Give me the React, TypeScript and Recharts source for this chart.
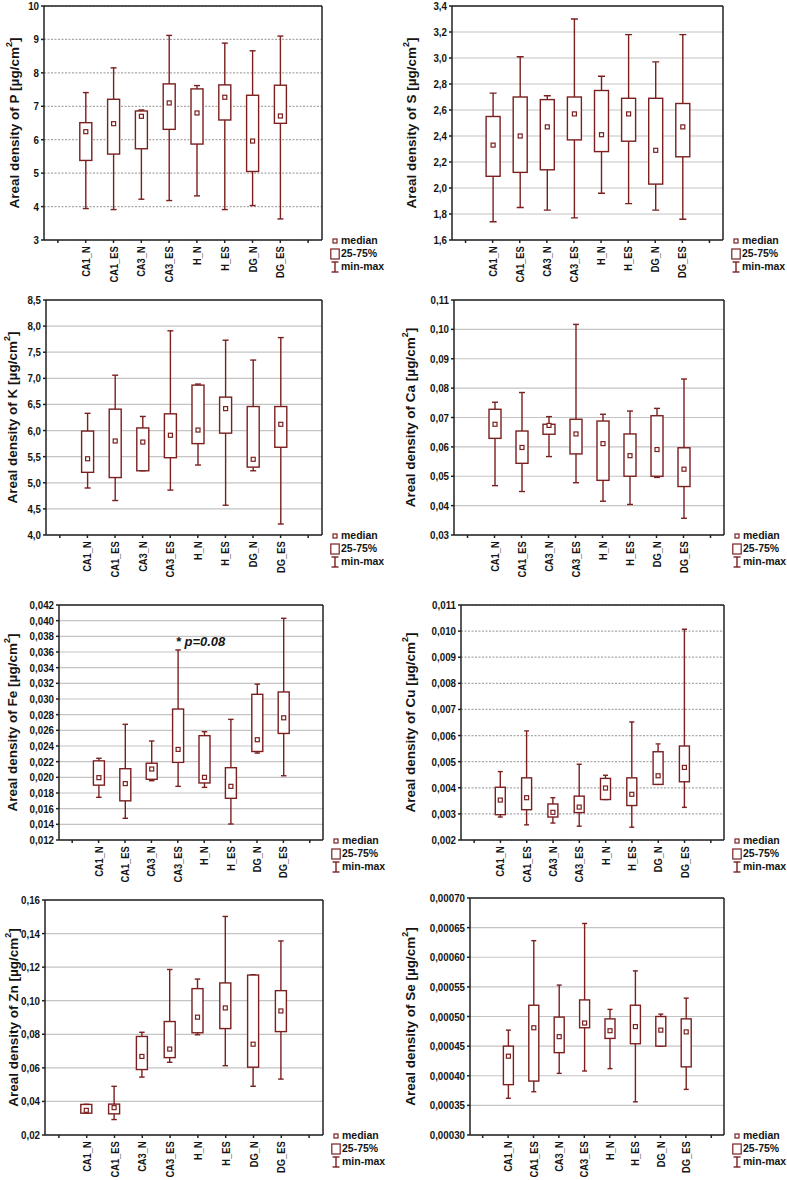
import React from "react";
import {
  ComposedChart,
  Bar,
  XAxis,
  YAxis,
  CartesianGrid,
  Legend,
  ReferenceDot,
} from "recharts";

const RED = "#7b1f1f";
const INK = "#141414";
const FONT = '"Liberation Sans", Arial, sans-serif';

const groups = ["CA1_N", "CA1_ES", "CA3_N", "CA3_ES", "H_N", "H_ES", "DG_N", "DG_ES"];

// each row: [min, q25, median, q75, max]
const P = [
  [3.94, 5.38, 6.24, 6.51, 7.41],
  [3.91, 5.57, 6.48, 7.21, 8.15],
  [4.22, 5.73, 6.7, 6.86, 6.89],
  [4.18, 6.31, 7.1, 7.67, 9.12],
  [4.32, 5.87, 6.8, 7.52, 7.62],
  [3.91, 6.59, 7.27, 7.64, 8.89],
  [4.03, 5.05, 5.96, 7.33, 8.66],
  [3.63, 6.49, 6.71, 7.63, 9.1],
];
const S = [
  [1.74, 2.09, 2.33, 2.55, 2.73],
  [1.85, 2.12, 2.4, 2.7, 3.01],
  [1.83, 2.14, 2.47, 2.68, 2.71],
  [1.77, 2.37, 2.57, 2.7, 3.3],
  [1.96, 2.28, 2.41, 2.75, 2.86],
  [1.88, 2.36, 2.57, 2.69, 3.18],
  [1.83, 2.03, 2.29, 2.69, 2.97],
  [1.76, 2.24, 2.47, 2.65, 3.18],
];
const K = [
  [4.9, 5.2, 5.46, 5.99, 6.33],
  [4.66, 5.1, 5.8, 6.41, 7.06],
  [5.23, 5.23, 5.78, 6.05, 6.27],
  [4.86, 5.48, 5.91, 6.32, 7.91],
  [5.34, 5.75, 6.01, 6.87, 6.89],
  [4.57, 5.95, 6.42, 6.64, 7.73],
  [5.23, 5.3, 5.45, 6.46, 7.35],
  [4.21, 5.68, 6.12, 6.46, 7.78],
];
const Ca = [
  [0.0468, 0.0629, 0.0677, 0.0728, 0.0752],
  [0.0448, 0.0544, 0.0598, 0.0654, 0.0785],
  [0.0567, 0.0643, 0.0673, 0.0677, 0.0703],
  [0.0478, 0.0576, 0.0644, 0.0694, 0.1017],
  [0.0415, 0.0486, 0.0611, 0.0688, 0.0711],
  [0.0404, 0.05, 0.057, 0.0644, 0.0722],
  [0.0496, 0.05, 0.0591, 0.0706, 0.0731],
  [0.0357, 0.0465, 0.0524, 0.0597, 0.0831],
];
const Fe = [
  [0.01745, 0.019, 0.01996, 0.0221, 0.02243],
  [0.01477, 0.017, 0.0192, 0.0211, 0.02677],
  [0.01957, 0.01975, 0.02106, 0.0218, 0.02464],
  [0.01885, 0.02191, 0.02357, 0.02872, 0.03626],
  [0.01872, 0.01928, 0.02, 0.02532, 0.02583],
  [0.01404, 0.01732, 0.01885, 0.02123, 0.0274],
  [0.0231, 0.0233, 0.0248, 0.0306, 0.0319],
  [0.0202, 0.0256, 0.0276, 0.0309, 0.0403],
];
const Cu = [
  [0.00288, 0.00297, 0.00353, 0.00402, 0.00462],
  [0.00258, 0.00316, 0.00362, 0.00438, 0.00618],
  [0.00265, 0.00288, 0.00306, 0.00338, 0.00362],
  [0.00253, 0.00305, 0.00326, 0.00368, 0.0049],
  [0.00355, 0.00355, 0.00399, 0.00436, 0.00448],
  [0.00249, 0.00332, 0.00375, 0.00438, 0.00652],
  [0.00413, 0.00413, 0.00446, 0.00538, 0.00568],
  [0.00325, 0.00423, 0.00478, 0.0056, 0.01007],
];
const Zn = [
  [0.033, 0.033, 0.0347, 0.0382, 0.0383],
  [0.0292, 0.0326, 0.0363, 0.0384, 0.049],
  [0.0545, 0.059, 0.0668, 0.0787, 0.0812],
  [0.0633, 0.0661, 0.0712, 0.0876, 0.1186],
  [0.0797, 0.0809, 0.0902, 0.1072, 0.1129],
  [0.0613, 0.0834, 0.0957, 0.1106, 0.1502],
  [0.049, 0.0604, 0.0741, 0.1153, 0.1155],
  [0.0533, 0.0816, 0.0939, 0.106, 0.1356],
];
const Se = [
  [0.000362, 0.000385, 0.000433, 0.00045, 0.000477],
  [0.000373, 0.000391, 0.000481, 0.000519, 0.000628],
  [0.000404, 0.000439, 0.000466, 0.000499, 0.000553],
  [0.000408, 0.000481, 0.000489, 0.000528, 0.000657],
  [0.000412, 0.000463, 0.000476, 0.000496, 0.000512],
  [0.000356, 0.000454, 0.000483, 0.000519, 0.000577],
  [0.00045, 0.00045, 0.000477, 0.0005, 0.000504],
  [0.000377, 0.000415, 0.000474, 0.000496, 0.000531],
];

const pTicks = [3, 4, 5, 6, 7, 8, 9, 10];
const sTicks = [1.6, 1.8, 2.0, 2.2, 2.4, 2.6, 2.8, 3.0, 3.2, 3.4];
const kTicks = [4.0, 4.5, 5.0, 5.5, 6.0, 6.5, 7.0, 7.5, 8.0, 8.5];
const caTicks = [0.03, 0.04, 0.05, 0.06, 0.07, 0.08, 0.09, 0.1, 0.11];
const feTicks = [
  0.012, 0.014, 0.016, 0.018, 0.02, 0.022, 0.024, 0.026, 0.028, 0.03, 0.032,
  0.034, 0.036, 0.038, 0.04, 0.042,
];
const cuTicks = [0.002, 0.003, 0.004, 0.005, 0.006, 0.007, 0.008, 0.009, 0.01, 0.011];
const znTicks = [0.02, 0.04, 0.06, 0.08, 0.1, 0.12, 0.14, 0.16];
const seTicks = [0.0003, 0.00035, 0.0004, 0.00045, 0.0005, 0.00055, 0.0006, 0.00065, 0.0007];

const legendItems = ["median", "25-75%", "min-max"];
const feNote = "* p=0.08";

function rowsFor(stats: number[][]) {
  // empty slot on each side, like the original
  const rows: any[] = [{ name: "", range: null, s: null }];
  stats.forEach((s, i) => rows.push({ name: groups[i], range: [s[0], s[4]], s }));
  rows.push({ name: " ", range: null, s: null });
  return rows;
}

const makeBox = (boxW: number) => (props: any) => {
  const { x, y, width, height, payload } = props;
  if (!payload || !payload.s) return null;
  const [mn, q1, md, q3, mx] = payload.s;
  const py = (v: number) => y + ((mx - v) / (mx - mn)) * height;
  const cx = x + width / 2;
  const cap = boxW / 4;
  return (
    <g stroke={RED} strokeWidth={1.4} fill="none">
      <line x1={cx} x2={cx} y1={py(mx)} y2={py(q3)} />
      <line x1={cx} x2={cx} y1={py(q1)} y2={py(mn)} />
      <line x1={cx - cap} x2={cx + cap} y1={py(mx)} y2={py(mx)} />
      <line x1={cx - cap} x2={cx + cap} y1={py(mn)} y2={py(mn)} />
      <rect x={cx - boxW / 2} y={py(q3)} width={boxW} height={py(q1) - py(q3)} fill="#fff" />
      <rect x={cx - 2} y={py(md) - 2} width={4} height={4} fill="#fff" strokeWidth={1.2} />
    </g>
  );
};

// the original uses a condensed bold face for ticks; squeeze Liberation Sans
const XTick = (props: any) => {
  const { x, y, payload } = props;
  return (
    <text
      transform={`translate(${x} ${y}) rotate(-90) scale(0.85 1)`}
      x={0}
      y={0}
      dx={-1.5}
      dy={4}
      textAnchor="end"
      fontFamily={FONT}
      fontWeight="bold"
      fontSize={11}
      fill={INK}
    >
      {payload.value}
    </text>
  );
};

const YTick = (props: any) => {
  const { x, y, payload, fmt } = props;
  return (
    <text
      transform={`translate(${x} ${y}) scale(0.85 1)`}
      x={0}
      y={0}
      dy={4}
      textAnchor="end"
      fontFamily={FONT}
      fontWeight="bold"
      fontSize={11.5}
      fill={INK}
    >
      {fmt(payload.value)}
    </text>
  );
};

const YLabel = ({ lx, ly, el }: any) => (
  <text
    x={lx}
    y={ly}
    transform={`rotate(-90 ${lx} ${ly})`}
    textAnchor="middle"
    dominantBaseline="central"
    fontFamily={FONT}
    fontWeight="bold"
    fontSize={13.5}
    fill={INK}
  >
    Areal density of {el} [µg/cm<tspan dy={-5} fontSize={9}>2</tspan>
    <tspan dy={5}>]</tspan>
  </text>
);

const NoteLabel = (props: any) => {
  const { viewBox } = props;
  return (
    <text
      x={viewBox.x - 1}
      y={viewBox.y}
      dominantBaseline="central"
      fontFamily={FONT}
      fontWeight="bold"
      fontStyle="italic"
      fontSize={13}
      fill={INK}
    >
      {feNote}
    </text>
  );
};

const LegendBox = () => (
  <div style={{ fontFamily: FONT, fontWeight: "bold", fontSize: 10.5, color: INK, lineHeight: "13px" }}>
    {legendItems.map((t, i) => (
      <div key={t} style={{ display: "flex", alignItems: "center", whiteSpace: "nowrap" }}>
        <svg width={10} height={12} style={{ marginRight: 1 }}>
          {i === 0 && <rect x={3} y={4} width={4} height={4} fill="#fff" stroke={RED} strokeWidth={1.2} />}
          {i === 1 && <rect x={0.8} y={1} width={8.4} height={10} fill="#fff" stroke={RED} strokeWidth={1.2} />}
          {i === 2 && (
            <g stroke={RED} strokeWidth={1.4}>
              <line x1={5} x2={5} y1={1} y2={11} />
              <line x1={1.5} x2={8.5} y1={1} y2={1} />
              <line x1={1.5} x2={8.5} y1={11} y2={11} />
            </g>
          )}
        </svg>
        <span>{t}</span>
      </div>
    ))}
  </div>
);

function Panel(p: any) {
  const { left, top, width, plotL, plotR, plotT, plotB, stats, ticks, dec, el, dotted, boxW, labelX, note } = p;
  const data = rowsFor(stats);
  const xh = 50;
  const height = plotB - top + xh;
  const domain = [ticks[0], ticks[ticks.length - 1]];
  const fmt = (v: number) => v.toFixed(dec).replace(".", ",");
  return (
    <div style={{ position: "absolute", left, top }}>
      <ComposedChart
        width={width}
        height={height}
        data={data}
        margin={{ top: plotT - top, right: left + width - plotR, bottom: 0, left: 0 }}
      >
        <CartesianGrid
          vertical={false}
          stroke={dotted ? "#a8a8a8" : "#c4c4c4"}
          strokeWidth={1.2}
          strokeDasharray={dotted ? "2 1.5" : undefined}
        />
        <XAxis
          dataKey="name"
          type="category"
          interval={0}
          height={xh}
          tickSize={3}
          tick={<XTick />}
          stroke="#222"
          strokeWidth={1.5}
        />
        <XAxis
          xAxisId="top"
          dataKey="name"
          type="category"
          orientation="top"
          mirror
          interval={0}
          tickSize={3}
          tick={false}
          stroke="#222"
          strokeWidth={1.5}
        />
        <YAxis
          type="number"
          domain={domain}
          ticks={ticks}
          interval={0}
          allowDataOverflow
          width={plotL - left}
          tickSize={3}
          tick={<YTick fmt={fmt} />}
          stroke="#222"
          strokeWidth={1.5}
          label={<YLabel lx={labelX - left} ly={(plotT + plotB) / 2 - top} el={el} />}
        />
        <YAxis
          yAxisId="r"
          type="number"
          orientation="right"
          mirror
          domain={domain}
          ticks={ticks}
          interval={0}
          allowDataOverflow
          tickSize={3}
          tick={false}
          stroke="#222"
          strokeWidth={1.5}
        />
        <Bar dataKey="range" barSize={boxW} shape={makeBox(boxW)} isAnimationActive={false} />
        {note && (
          <ReferenceDot x={note.x} y={note.y} r={1} fill="none" stroke="none" label={<NoteLabel />} />
        )}
        <Legend
          layout="horizontal"
          verticalAlign="middle"
          align="center"
          content={<LegendBox />}
          wrapperStyle={{ left: plotR - left + 8, top: plotB - top - 6, width: "auto", height: "auto" }}
        />
      </ComposedChart>
    </div>
  );
}

export default function App() {
  return (
    <div style={{ position: "absolute", left: 0, top: 0, width: 787, height: 1180, background: "#fff", overflow: "hidden" }}>
      <Panel left={0} top={0} width={393} plotL={44} plotR={322} plotT={6} plotB={240}
        stats={P} ticks={pTicks} dec={0} el="P" dotted boxW={12} labelX={14} />
      <Panel left={393} top={0} width={394} plotL={452} plotR={723} plotT={6} plotB={240}
        stats={S} ticks={sTicks} dec={1} el="S" boxW={14} labelX={411} />
      <Panel left={0} top={294} width={393} plotL={46} plotR={322} plotT={300} plotB={535}
        stats={K} ticks={kTicks} dec={1} el="K" boxW={12} labelX={12} />
      <Panel left={393} top={294} width={394} plotL={454} plotR={724} plotT={300} plotB={535}
        stats={Ca} ticks={caTicks} dec={2} el="Ca" boxW={12} labelX={410} />
      <Panel left={0} top={590} width={393} plotL={59} plotR={323} plotT={605} plotB={840}
        stats={Fe} ticks={feTicks} dec={3} el="Fe" boxW={11} labelX={12}
        note={{ x: "CA3_ES", y: 0.0372 }} />
      <Panel left={393} top={590} width={394} plotL={461} plotR={724} plotT={605} plotB={840}
        stats={Cu} ticks={cuTicks} dec={3} el="Cu" dotted boxW={10} labelX={410} />
      <Panel left={0} top={880} width={393} plotL={45} plotR={323} plotT={900} plotB={1135}
        stats={Zn} ticks={znTicks} dec={2} el="Zn" boxW={11} labelX={13} />
      <Panel left={393} top={880} width={394} plotL={470} plotR={724} plotT={898} plotB={1135}
        stats={Se} ticks={seTicks} dec={5} el="Se" boxW={10} labelX={410} />
    </div>
  );
}
